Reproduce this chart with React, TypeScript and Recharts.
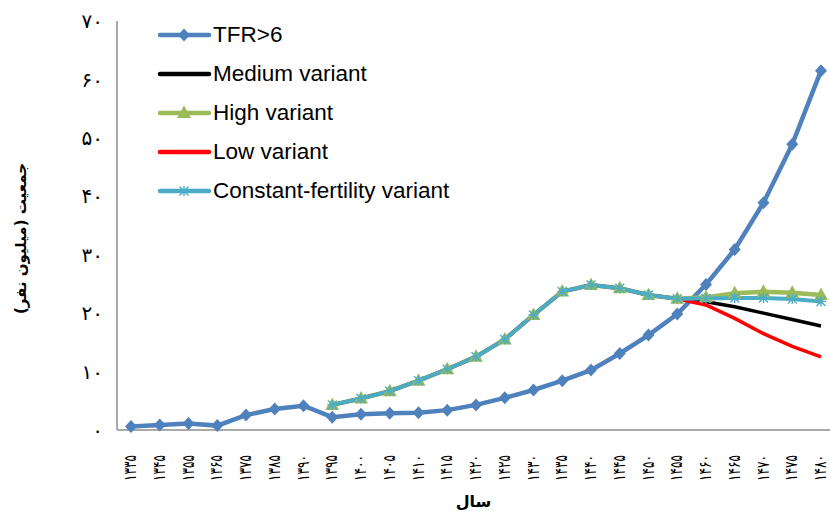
import React from "react";
import { LineChart, Line, XAxis, YAxis, Legend, Label } from "recharts";

// years (solar hijri) on the x axis
const years = [
  "۱۳۳۵", "۱۳۴۵", "۱۳۵۵", "۱۳۶۵", "۱۳۷۵", "۱۳۸۵", "۱۳۹۰", "۱۳۹۵", "۱۴۰۰",
  "۱۴۰۵", "۱۴۱۰", "۱۴۱۵", "۱۴۲۰", "۱۴۲۵", "۱۴۳۰", "۱۴۳۵", "۱۴۴۰", "۱۴۴۵",
  "۱۴۵۰", "۱۴۵۵", "۱۴۶۰", "۱۴۶۵", "۱۴۷۰", "۱۴۷۵", "۱۴۸۰",
];
const yTicks = [0, 10, 20, 30, 40, 50, 60, 70];
const yTickLabels = ["۰", "۱۰", "۲۰", "۳۰", "۴۰", "۵۰", "۶۰", "۷۰"];

const tfr6 = [
  0.6, 0.85, 1.1, 0.75, 2.55, 3.6, 4.15, 2.2, 2.7, 2.85, 2.95, 3.4, 4.3, 5.5,
  6.85, 8.45, 10.25, 13.1, 16.25, 19.85, 24.9, 30.9, 38.9, 48.9, 61.5,
];
// projections share the path from 1395 to 1455
const projStart = years.indexOf("۱۳۹۵");
const shared = [4.3, 5.4, 6.65, 8.45, 10.4, 12.55, 15.5, 19.7, 23.7, 24.8, 24.25, 23.1, 22.45];
const medium = [...shared, 21.95, 21.1, 20.0, 18.9, 17.8];
const high = [...shared, 22.7, 23.4, 23.65, 23.5, 23.1];
const low = [...shared, 21.4, 19.1, 16.5, 14.3, 12.5];
const constant = [...shared, 22.5, 22.6, 22.6, 22.4, 22.0];

const at = (arr: number[], i: number) =>
  i >= projStart ? arr[i - projStart] ?? null : null;

const data = years.map((year, i) => ({
  year,
  tfr6: tfr6[i],
  medium: at(medium, i),
  high: at(high, i),
  low: at(low, i),
  constant: at(constant, i),
}));

const BLUE = "#4F81BD";
const GREEN = "#9BBB59";
const CYAN = "#4BACC6";
const RED = "#FF0000";
const BLACK = "#000000";

const diamond = (cx: number, cy: number, fill: string) => (
  <path d={`M${cx},${cy - 6.5} L${cx + 6},${cy} L${cx},${cy + 6.5} L${cx - 6},${cy} Z`} fill={fill} />
);
const triangle = (cx: number, cy: number, fill: string) => (
  <path d={`M${cx},${cy - 7.5} L${cx + 7},${cy + 5} L${cx - 7},${cy + 5} Z`} fill={fill} />
);
const star = (cx: number, cy: number, stroke: string) => (
  <g stroke={stroke} strokeWidth={1.4}>
    <line x1={cx} y1={cy - 5} x2={cx} y2={cy + 5} />
    <line x1={cx - 4.5} y1={cy - 4.5} x2={cx + 4.5} y2={cy + 4.5} />
    <line x1={cx - 4.5} y1={cy + 4.5} x2={cx + 4.5} y2={cy - 4.5} />
    <line x1={cx - 5} y1={cy} x2={cx + 5} y2={cy} />
  </g>
);

const makeDot = (kind: string, color: string) => (props: any) => {
  const { cx, cy, index, value } = props;
  if (cx == null || cy == null || value == null) return <g key={index} />;
  return (
    <g key={index}>
      {kind === "diamond" ? diamond(cx, cy, color) : kind === "triangle" ? triangle(cx, cy, color) : star(cx, cy, color)}
    </g>
  );
};

const legendItems = [
  { name: "TFR>6", color: BLUE, marker: "diamond" },
  { name: "Medium variant", color: BLACK, marker: "" },
  { name: "High variant", color: GREEN, marker: "triangle" },
  { name: "Low variant", color: RED, marker: "" },
  { name: "Constant-fertility variant", color: CYAN, marker: "star" },
];

const renderLegend = () => (
  <div style={{ fontFamily: "'Liberation Sans', Arial, sans-serif", fontSize: 22.5, color: "#000" }}>
    {legendItems.map((it) => (
      <div key={it.name} style={{ display: "flex", alignItems: "center", height: 39.2 }}>
        <svg width={55} height={16} style={{ marginRight: 1 }}>
          <line x1={3} y1={8} x2={52} y2={8} stroke={it.color} strokeWidth={4.5} strokeLinecap="round" />
          {it.marker === "diamond" && diamond(27, 8, it.color)}
          {it.marker === "triangle" && triangle(27, 8, it.color)}
          {it.marker === "star" && star(27, 8, it.color)}
        </svg>
        <span>{it.name}</span>
      </div>
    ))}
  </div>
);

const XTick = (props: any) => {
  const { x, y, payload } = props;
  return (
    <text
      x={x}
      y={y}
      dy="0.3em"
      transform={`rotate(-90 ${x} ${y})`}
      textAnchor="end"
      fontFamily="'DejaVu Sans', sans-serif"
      fontSize={17}
      textLength={26}
      lengthAdjust="spacingAndGlyphs"
      fill="#000"
    >
      {payload.value}
    </text>
  );
};

const YTitle = (props: any) => {
  const { viewBox } = props;
  const x = 21;
  const y = viewBox.y + viewBox.height / 2 + 13;
  return (
    <text
      x={x}
      y={y}
      dy="0.35em"
      transform={`rotate(-90 ${x} ${y})`}
      textAnchor="middle"
      direction="rtl"
      fontFamily="'DejaVu Sans', sans-serif"
      fontWeight="bold"
      fontSize={15}
      fill="#000"
    >
      جمعیت (میلیون نفر)
    </text>
  );
};

const XTitle = (props: any) => {
  const { viewBox } = props;
  return (
    <text
      x={viewBox.x + viewBox.width / 2}
      y={501}
      dy="0.35em"
      textAnchor="middle"
      direction="rtl"
      fontFamily="'DejaVu Sans', sans-serif"
      fontWeight="bold"
      fontSize={16}
      fill="#000"
    >
      سال
    </text>
  );
};

export default function App() {
  return (
    <div style={{ position: "absolute", left: 0, top: 0, background: "#fff" }}>
      <LineChart width={830} height={512} data={data} margin={{ top: 21, right: 0, bottom: 0, left: 0 }}>
        <XAxis
          dataKey="year"
          height={82}
          padding={{ left: 14, right: 9 }}
          axisLine={{ stroke: "#8C8C8C", strokeWidth: 1.5 }}
          tickLine={false}
          interval={0}
          tick={<XTick />}
          tickMargin={19}
        >
          <Label content={<XTitle />} />
        </XAxis>
        <YAxis
          width={117}
          domain={[0, 70]}
          ticks={yTicks}
          axisLine={{ stroke: "#8C8C8C", strokeWidth: 1.5 }}
          tickLine={false}
          tickSize={6}
          tickMargin={8}
          tickFormatter={(v: number) => yTickLabels[yTicks.indexOf(v)]}
          tick={{ fontFamily: "'DejaVu Sans', sans-serif", fontSize: 20, fill: "#000" }}
        >
          <Label content={<YTitle />} />
        </YAxis>
        <Legend
          layout="vertical"
          align="center"
          verticalAlign="middle"
          content={renderLegend}
          wrapperStyle={{ left: 157, top: 15, width: 320 }}
        />
        <Line dataKey="tfr6" name="TFR>6" stroke={BLUE} strokeWidth={4.5} dot={makeDot("diamond", BLUE)} activeDot={false} isAnimationActive={false} />
        <Line dataKey="medium" name="Medium variant" stroke={BLACK} strokeWidth={3.5} dot={false} activeDot={false} isAnimationActive={false} />
        <Line dataKey="high" name="High variant" stroke={GREEN} strokeWidth={4.5} dot={makeDot("triangle", GREEN)} activeDot={false} isAnimationActive={false} />
        <Line dataKey="low" name="Low variant" stroke={RED} strokeWidth={3.5} dot={false} activeDot={false} isAnimationActive={false} />
        <Line dataKey="constant" name="Constant-fertility variant" stroke={CYAN} strokeWidth={4} dot={makeDot("star", CYAN)} activeDot={false} isAnimationActive={false} />
      </LineChart>
    </div>
  );
}
